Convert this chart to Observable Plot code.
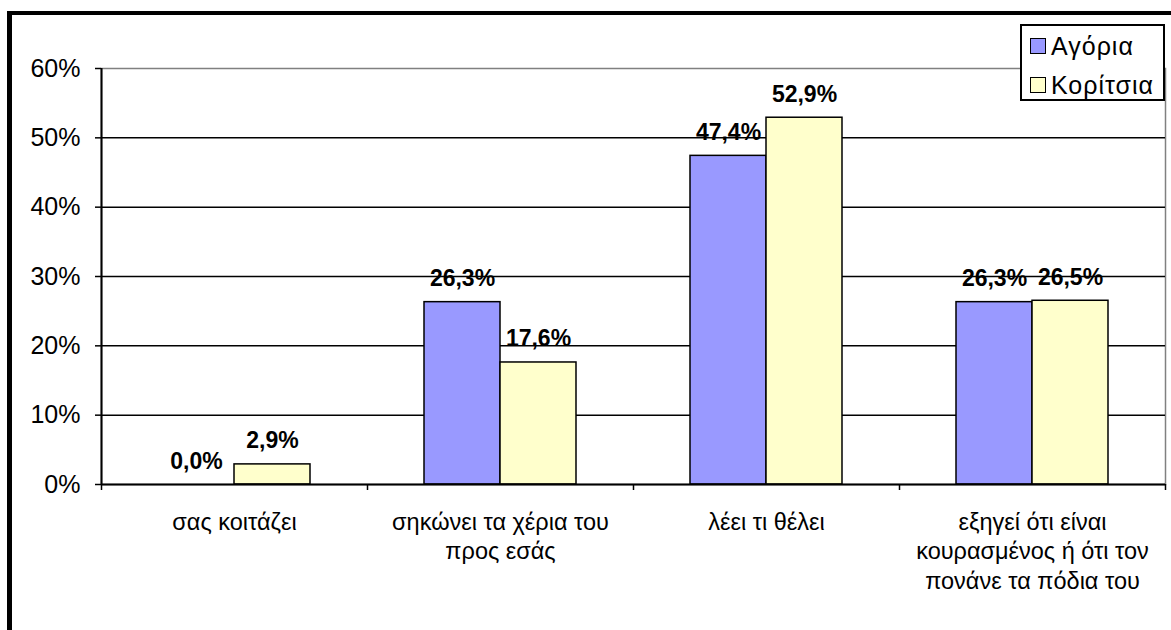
<!DOCTYPE html>
<html>
<head>
<meta charset="utf-8">
<script src="https://cdn.jsdelivr.net/npm/d3@7"></script>
<script src="https://cdn.jsdelivr.net/npm/@observablehq/plot@0.6"></script>
<style>
  html, body { margin: 0; padding: 0; background: #fff; }
  #wrap { position: relative; width: 1171px; height: 630px; overflow: hidden; font-family: "Liberation Sans", Arial, sans-serif; }
  #wrap svg { position: absolute; left: 0; top: 0; }
  #edge { position: absolute; left: 7px; top: 11px; width: 1200px; height: 700px;
          border-top: 4px solid #000; border-left: 5px solid #000; pointer-events: none; }
  #legend { position: absolute; left: 1020px; top: 24px; width: 141px; height: 73px;
            border: 2px solid #000; background: #fff; font-size: 25px; letter-spacing: 1px; color: #000; }
  #legend .row { position: absolute; left: 8px; height: 28px; display: flex; align-items: center; white-space: nowrap; }
  #legend .sw { width: 14px; height: 14px; border: 1.5px solid #000; margin-right: 5px; flex: none; }
</style>
</head>
<body>
<div id="wrap">
  <div id="chart"></div>
  <div id="edge"></div>
  <div id="legend"></div>
</div>
<script>
// Response categories (x axis)
const categories = [
  "σας κοιτάζει",
  "σηκώνει τα χέρια του\nπρος εσάς",
  "λέει τι θέλει",
  "εξηγεί ότι είναι\nκουρασμένος ή ότι τον\nπονάνε τα πόδια του"
];
// Series names
const seriesNames = ["Αγόρια", "Κορίτσια"];
// Percentages per category
const boys  = [0.0, 26.3, 47.4, 26.3];
const girls = [2.9, 17.6, 52.9, 26.5];
// Y axis ticks (percent)
const yTicks = [0, 10, 20, 30, 40, 50, 60];

const colors = { "Αγόρια": "#9999FF", "Κορίτσια": "#FFFFCC" };

// Each category occupies one unit on the x scale; the two bars sit side by side in its middle.
const gap = 0.2143, barW = 0.2857;
const rows = [];
categories.forEach((c, i) => {
  rows.push({ series: seriesNames[0], i, x1: i + gap, x2: i + gap + barW, value: boys[i] });
  rows.push({ series: seriesNames[1], i, x1: i + gap + barW, x2: i + gap + 2 * barW, value: girls[i] });
});
const fmt = v => v.toFixed(1).replace(".", ",") + "%";

const chart = Plot.plot({
  width: 1171,
  height: 630,
  marginLeft: 101,
  marginRight: 6,
  marginTop: 68,
  marginBottom: 146,
  style: { fontFamily: "'Liberation Sans', Arial, sans-serif", color: "#000", background: "transparent" },
  x: { type: "linear", domain: [0, categories.length], axis: null },
  y: { domain: [0, 60], axis: null },
  marks: [
    Plot.frame({ stroke: "#808080", strokeWidth: 1.5 }),
    Plot.ruleY(yTicks.filter(t => t > 0 && t < 60), { stroke: "#000", strokeWidth: 1.5 }),
    Plot.rectY(rows, {
      x1: "x1", x2: "x2", y1: 0, y2: "value",
      fill: d => colors[d.series], stroke: "#000", strokeWidth: 1.5
    }),
    Plot.ruleY([0], { stroke: "#000", strokeWidth: 2 }),
    Plot.ruleX([0], { stroke: "#000", strokeWidth: 2 }),
    Plot.axisY({
      ticks: yTicks, tickFormat: d => d + "%", tickSize: 6, tickPadding: 15,
      fontSize: 25, stroke: "#000", strokeWidth: 1.5, label: null
    }),
    Plot.axisX({
      ticks: d3.range(categories.length + 1), tickFormat: () => "", tickSize: 6,
      stroke: "#000", strokeWidth: 1.5, label: null
    }),
    Plot.text(categories, {
      x: (d, i) => i + 0.5, y: 0, text: d => d,
      lineAnchor: "top", dy: 24, fontSize: 23.5, lineHeight: 1.26, fill: "#000"
    }),
    Plot.text(rows, {
      x: d => (d.x1 + d.x2) / 2, y: "value", text: d => fmt(d.value),
      lineAnchor: "bottom", dy: -16, fontSize: 23, fontWeight: "bold", fill: "#000"
    })
  ]
});
document.getElementById("chart").appendChild(chart);

// Legend
const legend = document.getElementById("legend");
seriesNames.forEach((name, k) => {
  const row = document.createElement("div");
  row.className = "row";
  row.style.top = (k === 0 ? 6 : 45) + "px";
  const sw = document.createElement("div");
  sw.className = "sw";
  sw.style.background = colors[name];
  const label = document.createElement("span");
  label.textContent = name;
  row.appendChild(sw);
  row.appendChild(label);
  legend.appendChild(row);
});
</script>
</body>
</html>
